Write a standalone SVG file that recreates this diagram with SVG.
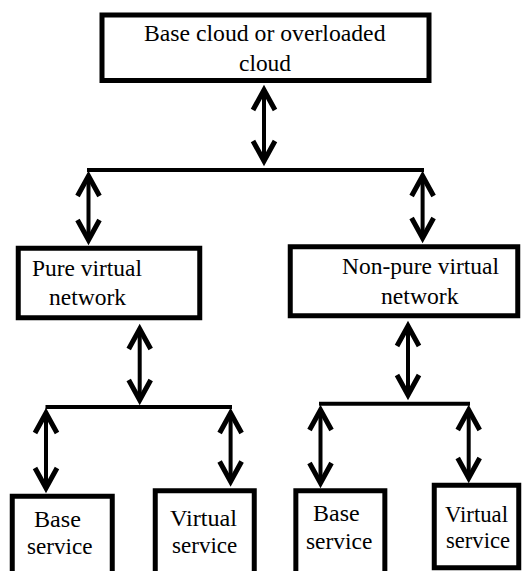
<svg xmlns="http://www.w3.org/2000/svg" width="528" height="571" viewBox="0 0 528 571" font-family="Liberation Serif, Times New Roman, serif">
<style>
.box{fill:#fff;stroke:#000;stroke-width:5}
.lbl{font-size:23.5px;fill:#000}
.bar{stroke:#000;stroke-width:4;fill:none}
.arr{stroke:#000;stroke-width:4;fill:none;marker-start:url(#ah);marker-end:url(#ah)}
</style>
<defs>
<marker id="ah" markerUnits="userSpaceOnUse" markerWidth="40" markerHeight="40" viewBox="-30 -20 40 40" refX="0" refY="0" orient="auto-start-reverse" overflow="visible">
<path d="M-20,-11 L0,0 L-20,11" fill="none" stroke="#000" stroke-width="5"/>
</marker>
</defs>
<rect width="528" height="571" fill="#fff"/>
<g id="base-cloud">
<rect class="box" x="102" y="15" width="327" height="65.5"/>
<text class="lbl" x="144" y="41" textLength="241.5" lengthAdjust="spacingAndGlyphs">Base cloud or overloaded</text>
<text class="lbl" x="239" y="71" textLength="52" lengthAdjust="spacingAndGlyphs">cloud</text>
</g>
<g id="pure-virtual-network">
<rect class="box" x="18.25" y="248.25" width="181.5" height="69.5"/>
<text class="lbl" x="32" y="276" textLength="110" lengthAdjust="spacingAndGlyphs">Pure virtual</text>
<text class="lbl" x="49" y="305" textLength="77" lengthAdjust="spacingAndGlyphs">network</text>
</g>
<g id="non-pure-virtual-network">
<rect class="box" x="290.25" y="246.75" width="227.5" height="69"/>
<text class="lbl" x="342" y="274" textLength="157" lengthAdjust="spacingAndGlyphs">Non-pure virtual</text>
<text class="lbl" x="381" y="304" textLength="77.6" lengthAdjust="spacingAndGlyphs">network</text>
</g>
<g id="base-service-left">
<rect class="box" x="12.25" y="496.25" width="100" height="100"/>
<text class="lbl" x="34" y="527" textLength="47" lengthAdjust="spacingAndGlyphs">Base</text>
<text class="lbl" x="27" y="554" textLength="65.6" lengthAdjust="spacingAndGlyphs">service</text>
</g>
<g id="virtual-service-left">
<rect class="box" x="155.25" y="490.75" width="99" height="100"/>
<text class="lbl" x="170" y="525.5" textLength="67" lengthAdjust="spacingAndGlyphs">Virtual</text>
<text class="lbl" x="172" y="552.5" textLength="65.3" lengthAdjust="spacingAndGlyphs">service</text>
</g>
<g id="base-service-right">
<rect class="box" x="295.85" y="490.75" width="89" height="100"/>
<text class="lbl" x="313" y="520.5" textLength="46.6" lengthAdjust="spacingAndGlyphs">Base</text>
<text class="lbl" x="306" y="549" textLength="66.3" lengthAdjust="spacingAndGlyphs">service</text>
</g>
<g id="virtual-service-right">
<rect class="box" x="434.25" y="485.25" width="84.5" height="82.5"/>
<text class="lbl" x="445" y="522" textLength="63" lengthAdjust="spacingAndGlyphs">Virtual</text>
<text class="lbl" x="446" y="548" textLength="64" lengthAdjust="spacingAndGlyphs">service</text>
</g>
<g id="connectors">
<line class="arr" x1="264" y1="90" x2="264" y2="161"/>
<line class="bar" x1="87" y1="170" x2="424" y2="170"/>
<line class="arr" x1="88.5" y1="176" x2="88.5" y2="240"/>
<line class="arr" x1="422.6" y1="176" x2="422.6" y2="238"/>
<line class="arr" x1="139.7" y1="329" x2="139.7" y2="400"/>
<line class="bar" x1="45.5" y1="407" x2="232" y2="407"/>
<line class="arr" x1="46" y1="413" x2="46" y2="488"/>
<line class="arr" x1="230.6" y1="413" x2="230.6" y2="481.5"/>
<line class="arr" x1="408" y1="326" x2="408" y2="395"/>
<line class="bar" x1="319" y1="403.7" x2="470" y2="403.7"/>
<line class="arr" x1="320.5" y1="410" x2="320.5" y2="483"/>
<line class="arr" x1="468.7" y1="410" x2="468.7" y2="478"/>
</g>
</svg>
